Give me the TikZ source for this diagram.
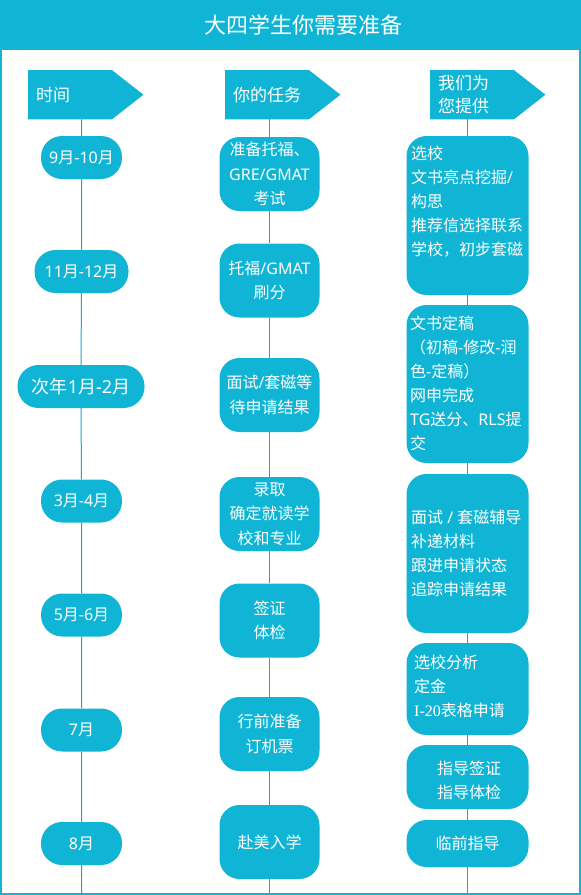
\documentclass[tikz,border=0pt]{standalone}
\usepackage{fontspec}
\setmainfont{Noto Sans CJK SC}
\newfontfamily\lafont{Noto Sans}
\newfontfamily\serfont{Liberation Serif}
\newcommand\la[1]{{\lafont #1}}
\usetikzlibrary{backgrounds}
\definecolor{bl}{RGB}{16,181,213}
\definecolor{ln}{RGB}{28,165,205}
\newcommand\myfs[2]{\fontsize{#1}{#2}\selectfont}
\begin{document}
\begin{tikzpicture}[x=1pt,y=-1pt,
  hdrbox/.style={minimum width=115pt, minimum height=49pt, anchor=north west,
    inner xsep=8pt, inner ysep=0pt, text width=99pt, align=left, text=white, font=\myfs{17}{23}},
  hdrfill/.style={fill=bl},
  pill/.style={fill=bl, rounded corners=21pt, minimum height=43pt, inner sep=0pt,
    text=white, font=\myfs{16}{24}},
  mbox/.style={fill=bl, rounded corners=20pt, minimum width=100pt, minimum height=74pt,
    inner sep=0pt, align=center, text=white, font=\myfs{16}{24.5}},
  rbox/.style={fill=bl, rounded corners=20pt, minimum width=122pt, inner sep=0pt},
  rtext/.style={text=white, align=left, anchor=west, inner sep=0pt, font=\myfs{16}{24}},
  ctext/.style={text=white, align=center, inner sep=0pt, font=\myfs{16}{24}},
  conn/.style={draw=ln, line width=1pt}
]
\useasboundingbox (0,0) rectangle (581,895);
% header band and frame
\fill[bl] (0,0) rectangle (581,50);
\draw[bl, line width=2pt] (1,50) -- (1,894) -- (580,894) -- (580,50);
\node[text=white, font=\myfs{22}{26}] (title) at (303,25) {大四学生你需要准备};

% column headers
\node[hdrbox] (h1) at (28,70) {时间};
\node[hdrbox] (h2) at (225,70) {你的任务};
\node[hdrbox] (h3) at (430,70) {我们为\\您提供};
\begin{scope}[on background layer]
\foreach \h in {h1,h2,h3}{
  \fill[hdrfill] (\h.north west) -- ([xshift=-31.5pt]\h.north east) -- (\h.east)
    -- ([xshift=-31.5pt]\h.south east) -- (\h.south west) -- cycle;
}
\end{scope}

% left column: time
\node[pill, minimum width=81pt] (p1) at (81.5,157.5) {\la{9}月\la{-10}月};
\node[pill, minimum width=94pt] (p2) at (81.5,271.5) {\la{11}月\la{-12}月};
\node[pill, minimum width=127pt, font=\myfs{18}{24}] (p3) at (81,386.5) {次年\la{1}月\la{-2}月};
\node[pill, minimum width=81pt] (p4) at (81.5,501) {\la{3}月\la{-4}月};
\node[pill, minimum width=81pt] (p5) at (81.5,615) {\la{5}月\la{-6}月};
\node[pill, minimum width=81pt] (p6) at (81.5,730) {\la{7}月};
\node[pill, minimum width=81pt] (p7) at (81.5,843.5) {\la{8}月};
\coordinate (b1) at (81.5,894);

% middle column: tasks
\node[mbox] (m1) at (269.5,174) {准备托福、\\\la{GRE/GMAT}\\考试};
\node[mbox] (m2) at (269.5,280.5) {托福\la{/GMAT}\\刷分};
\node[mbox] (m3) at (269.5,395) {面试\la{/}套磁等\\待申请结果};
\node[mbox] (m4) at (269.5,514) {录取\\确定就读学\\校和专业};
\node[mbox] (m5) at (269.5,620.5) {签证\\体检};
\node[mbox] (m6) at (269.5,734) {行前准备\\订机票};
\node[mbox] (m7) at (269.5,842) {赴美入学};
\coordinate (b2) at (269.5,894);

% right column: services
\node[rbox, minimum height=159pt] (r1) at (467.5,215.5) {};
\node[rbox, minimum height=158pt] (r2) at (467.5,384) {};
\node[rbox, minimum height=159pt] (r3) at (467.5,553.5) {};
\node[rbox, minimum height=92pt] (r4) at (467.5,689) {};
\node[rbox, minimum height=64pt] (r5) at (467.5,777) {};
\node[rbox, minimum height=47pt] (r6) at (467.5,843.5) {};
\coordinate (b3) at (467.5,894);

\node[rtext] (t1) at (411,201.5) {选校\\文书亮点挖掘\la{/}\\构思\\推荐信选择联系\\学校，初步套磁};
\node[rtext] (t2) at (410,383.5) {文书定稿\\（初稿\la{-}修改\la{-}润\\色\la{-}定稿）\\网申完成\\\la{TG}送分、\la{RLS}提\\交};
\node[rtext] (t3) at (411,553.5) {面试\la{ / }套磁辅导\\补递材料\\跟进申请状态\\追踪申请结果};
\node[rtext] (t4) at (414,686.5) {选校分析\\定金\\{\serfont I-20}表格申请};
\node[ctext] (t5) at (469,780) {指导签证\\指导体检};
\node[ctext] (t6) at (467.5,843.5) {临前指导};

% timeline connectors
\begin{scope}[on background layer]
\draw[conn] (h1.south -| p1) -- (p1) -- (p2) -- (p3) -- (p4) -- (p5) -- (p6) -- (p7) -- (b1);
\draw[conn] (h2.south -| m1) -- (m1) -- (m2) -- (m3) -- (m4) -- (m5) -- (m6) -- (m7) -- (b2);
\draw[conn] (h3.south -| r1) -- (r1) -- (r2) -- (r3) -- (r4) -- (r5) -- (r6) -- (b3);
\end{scope}
\end{tikzpicture}
\end{document}
